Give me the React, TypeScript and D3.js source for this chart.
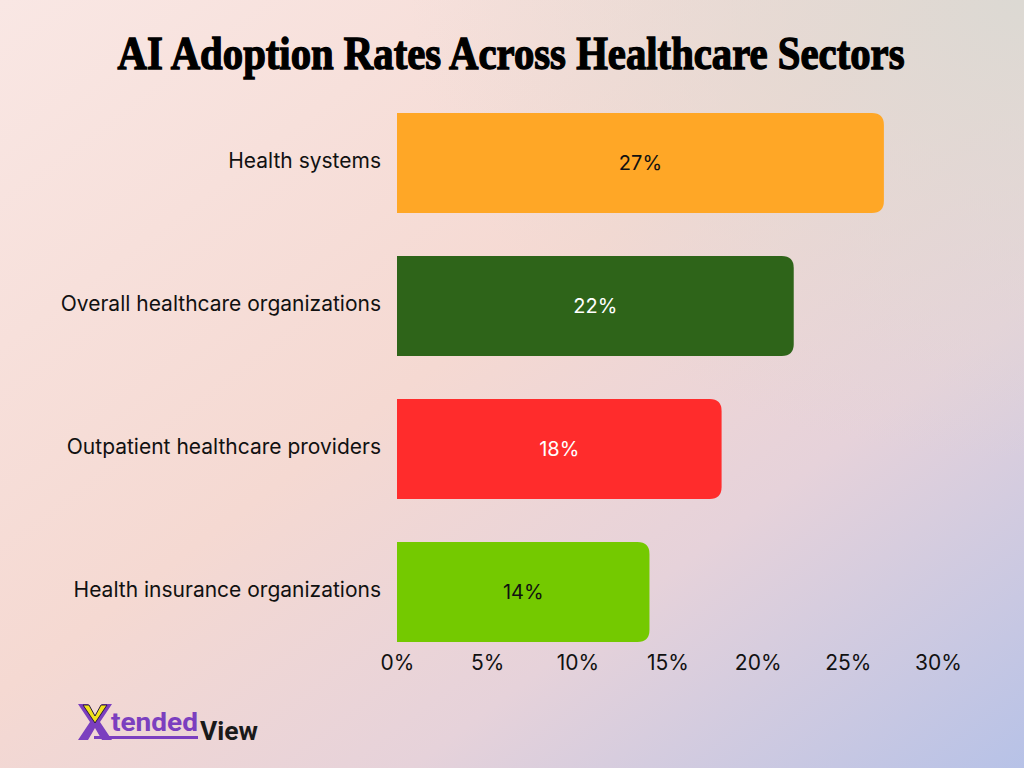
import { useRef, useEffect } from "react";
import * as d3 from "d3";

const categories = [
  "Health systems",
  "Overall healthcare organizations",
  "Outpatient healthcare providers",
  "Health insurance organizations",
];
const values = [27, 22, 18, 14];
const barColors = ["#ffa726", "#2e6419", "#ff2c2c", "#74c900"];
const labelColors = ["#111111", "#ffffff", "#ffffff", "#111111"];
const tickValues = [0, 5, 10, 15, 20, 25, 30];

const W = 1024;
const H = 768;

const App = () => {
  const svgRef = useRef(null);

  useEffect(() => {
    const svg = d3.select(svgRef.current);
    svg.selectAll("*").remove();

    // background gradients
    const defs = svg.append("defs");
    const diag = defs
      .append("linearGradient")
      .attr("id", "bgDiag")
      .attr("x1", "0")
      .attr("y1", "0")
      .attr("x2", "1")
      .attr("y2", "1");
    diag.append("stop").attr("offset", "0%").attr("stop-color", "#f9e7e4");
    diag.append("stop").attr("offset", "45%").attr("stop-color", "#f5d9d2");
    diag.append("stop").attr("offset", "70%").attr("stop-color", "#e6d2da");
    diag.append("stop").attr("offset", "100%").attr("stop-color", "#b7c2e7");

    const tr = defs
      .append("radialGradient")
      .attr("id", "bgTR")
      .attr("cx", "1")
      .attr("cy", "0")
      .attr("r", "0.6");
    tr.append("stop").attr("offset", "0%").attr("stop-color", "#dcd9d3").attr("stop-opacity", 1);
    tr.append("stop").attr("offset", "100%").attr("stop-color", "#dcd9d3").attr("stop-opacity", 0);

    svg.append("rect").attr("width", W).attr("height", H).attr("fill", "url(#bgDiag)");
    svg.append("rect").attr("width", W).attr("height", H).attr("fill", "url(#bgTR)");

    // title
    svg
      .append("text")
      .attr("x", 511)
      .attr("y", 69)
      .attr("text-anchor", "middle")
      .attr("font-family", "Liberation Serif, serif")
      .attr("font-weight", "bold")
      .attr("font-size", 47)
      .attr("textLength", 787)
      .attr("lengthAdjust", "spacingAndGlyphs")
      .attr("fill", "#000")
      .attr("stroke", "#000")
      .attr("stroke-width", 1.4)
      .text("AI Adoption Rates Across Healthcare Sectors");

    const margin = { left: 397, top: 113 };
    const x = d3.scaleLinear().domain([0, 30]).range([0, 541]);
    const y = d3.scaleBand().domain(categories).range([0, 529]).paddingInner(0.3).paddingOuter(0);

    const g = svg.append("g").attr("transform", `translate(${margin.left},${margin.top})`);

    const r = 12;
    const barPath = (w, h) =>
      `M0,0 H${w - r} Q${w},0 ${w},${r} V${h - r} Q${w},${h} ${w - r},${h} H0 Z`;

    const bars = g
      .selectAll(".bar")
      .data(categories)
      .enter()
      .append("g")
      .attr("transform", (d) => `translate(0,${y(d)})`);

    bars
      .append("path")
      .attr("d", (d, i) => barPath(x(values[i]), y.bandwidth()))
      .attr("fill", (d, i) => barColors[i]);

    bars
      .append("text")
      .attr("x", (d, i) => x(values[i]) / 2)
      .attr("y", y.bandwidth() / 2)
      .attr("dy", "0.35em")
      .attr("text-anchor", "middle")
      .attr("font-family", "Inter, sans-serif")
      .attr("font-size", 20)
      .attr("fill", (d, i) => labelColors[i])
      .text((d, i) => `${values[i]}%`);

    bars
      .append("text")
      .attr("x", -16)
      .attr("y", y.bandwidth() / 2 - 2)
      .attr("dy", "0.35em")
      .attr("text-anchor", "end")
      .attr("font-family", "Inter, sans-serif")
      .attr("font-size", 21)
      .attr("fill", "#111")
      .text((d) => d);

    // x axis labels
    const axis = g
      .append("g")
      .attr("transform", `translate(0,${529})`)
      .call(d3.axisBottom(x).tickValues(tickValues).tickFormat((d) => `${d}%`).tickSize(0).tickPadding(13));
    axis.select(".domain").remove();
    axis
      .selectAll("text")
      .attr("font-family", "Inter, sans-serif")
      .attr("font-size", 21)
      .attr("fill", "#111");

    // logo
    const logo = svg.append("g").attr("transform", "translate(78,704)");
    logo
      .append("path")
      .attr("d", "M0,0 H10 L17,13 L24,0 H34 L22,18 L34,36 H24 L17,24 L10,36 H0 L12,18 Z")
      .attr("fill", "#7b3fbf");
    logo
      .append("path")
      .attr("d", "M5,1 H11 L17,12 L23,1 H29 L17,19 Z")
      .attr("fill", "#f0e21a")
      .attr("stroke", "#2a1a40")
      .attr("stroke-width", 1);
    logo
      .append("text")
      .attr("x", 33)
      .attr("y", 27)
      .attr("font-family", "Roboto, sans-serif")
      .attr("font-weight", "bold")
      .attr("font-size", 25)
      .attr("textLength", 87)
      .attr("lengthAdjust", "spacingAndGlyphs")
      .attr("fill", "#7b3fbf")
      .text("tended");
    logo
      .append("rect")
      .attr("x", 16)
      .attr("y", 32)
      .attr("width", 104)
      .attr("height", 3)
      .attr("fill", "#7b3fbf");
    logo
      .append("text")
      .attr("x", 122)
      .attr("y", 36)
      .attr("font-family", "Roboto, sans-serif")
      .attr("font-weight", "bold")
      .attr("font-size", 25)
      .attr("textLength", 58)
      .attr("lengthAdjust", "spacingAndGlyphs")
      .attr("fill", "#1a1a1a")
      .text("View");
  }, []);

  return (
    <div style={{ position: "fixed", left: 0, top: 0, width: W, height: H }}>
      <svg ref={svgRef} width={W} height={H}></svg>
    </div>
  );
};

export default App;
